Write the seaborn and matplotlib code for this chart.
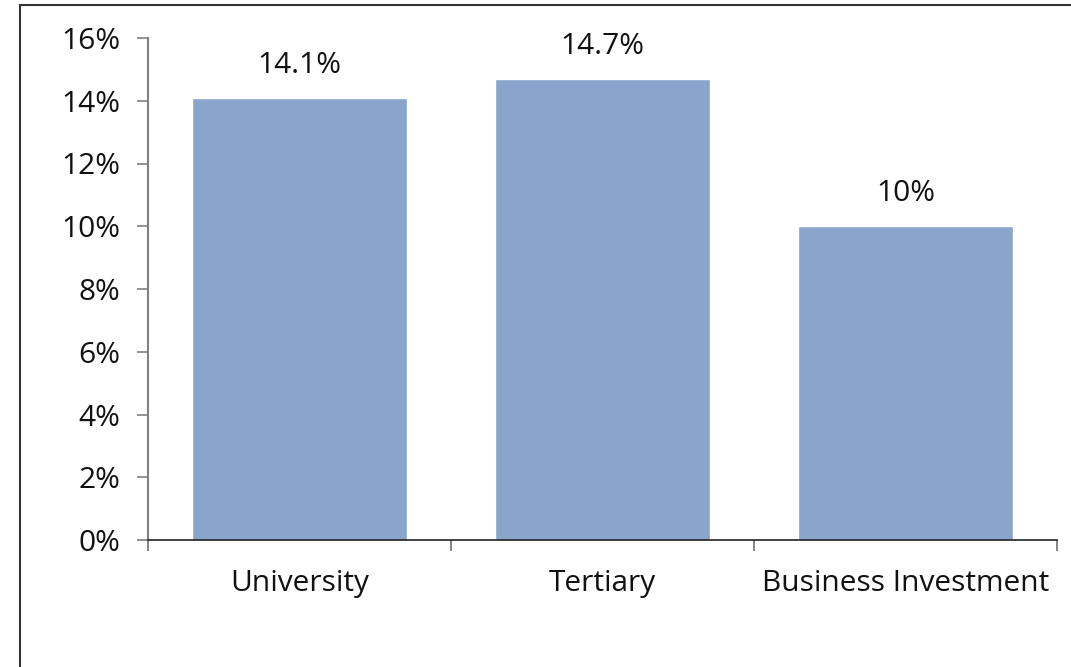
import matplotlib
matplotlib.use("Agg")
import matplotlib.pyplot as plt
from matplotlib.lines import Line2D
from matplotlib.ticker import FuncFormatter, FixedLocator
import seaborn as sns
import pandas as pd

categories = ["University", "Tertiary", "Business Investment"]
values = [14.1, 14.7, 10.0]
value_labels = ["14.1%", "14.7%", "10%"]
yticks = [0, 2, 4, 6, 8, 10, 12, 14, 16]

sns.set_style("white")
plt.rcParams['font.family'] = ['Open Sans', 'DejaVu Sans']

df = pd.DataFrame({"cat": categories, "val": values})

fig = plt.figure(figsize=(10.71, 6.67), dpi=100)
ax = fig.add_axes([148/1071, 1-540/667, (1057-148)/1071, (540-38)/667])
sns.barplot(data=df, x="cat", y="val", color="#8AA5CB", saturation=1, width=0.71, ax=ax)

FS = 21.5
TC = "#111111"
ax.set_ylim(0, 16)
ax.set_xlim(-0.5, 2.5)
ax.set_yticks(yticks)
ax.yaxis.set_major_formatter(FuncFormatter(lambda v, p: f"{int(v)}%"))
ax.tick_params(axis="y", which="major", length=8, width=1.2, color="#808080",
               labelsize=FS, pad=12, left=True, labelcolor=TC)
ax.tick_params(axis="x", which="major", length=0, labelsize=FS, pad=21, labelcolor=TC)
ax.xaxis.set_minor_locator(FixedLocator([-0.5, 0.5, 1.5, 2.5]))
ax.tick_params(axis="x", which="minor", length=8, width=1.2, color="#707070", bottom=True)
ax.set_xlabel("")
ax.set_ylabel("")

for s in ["top", "right"]:
    ax.spines[s].set_visible(False)
ax.spines["left"].set_color("#808080")
ax.spines["left"].set_linewidth(1.5)
ax.spines["bottom"].set_color("#222222")
ax.spines["bottom"].set_linewidth(1.2)

for i, (v, lab) in enumerate(zip(values, value_labels)):
    ax.annotate(lab, xy=(i, v), xytext=(0, 13), textcoords="offset points",
                ha="center", va="bottom", fontsize=FS, color=TC)

# partial outer frame (left and top edges)
fig.add_artist(Line2D([20/1071, 20/1071], [0, 1-5/667], transform=fig.transFigure,
                      color="#333333", lw=1.5))
fig.add_artist(Line2D([20/1071, 1], [1-5/667, 1-5/667], transform=fig.transFigure,
                      color="#333333", lw=1.5))

fig.savefig("out.png", dpi=100)
